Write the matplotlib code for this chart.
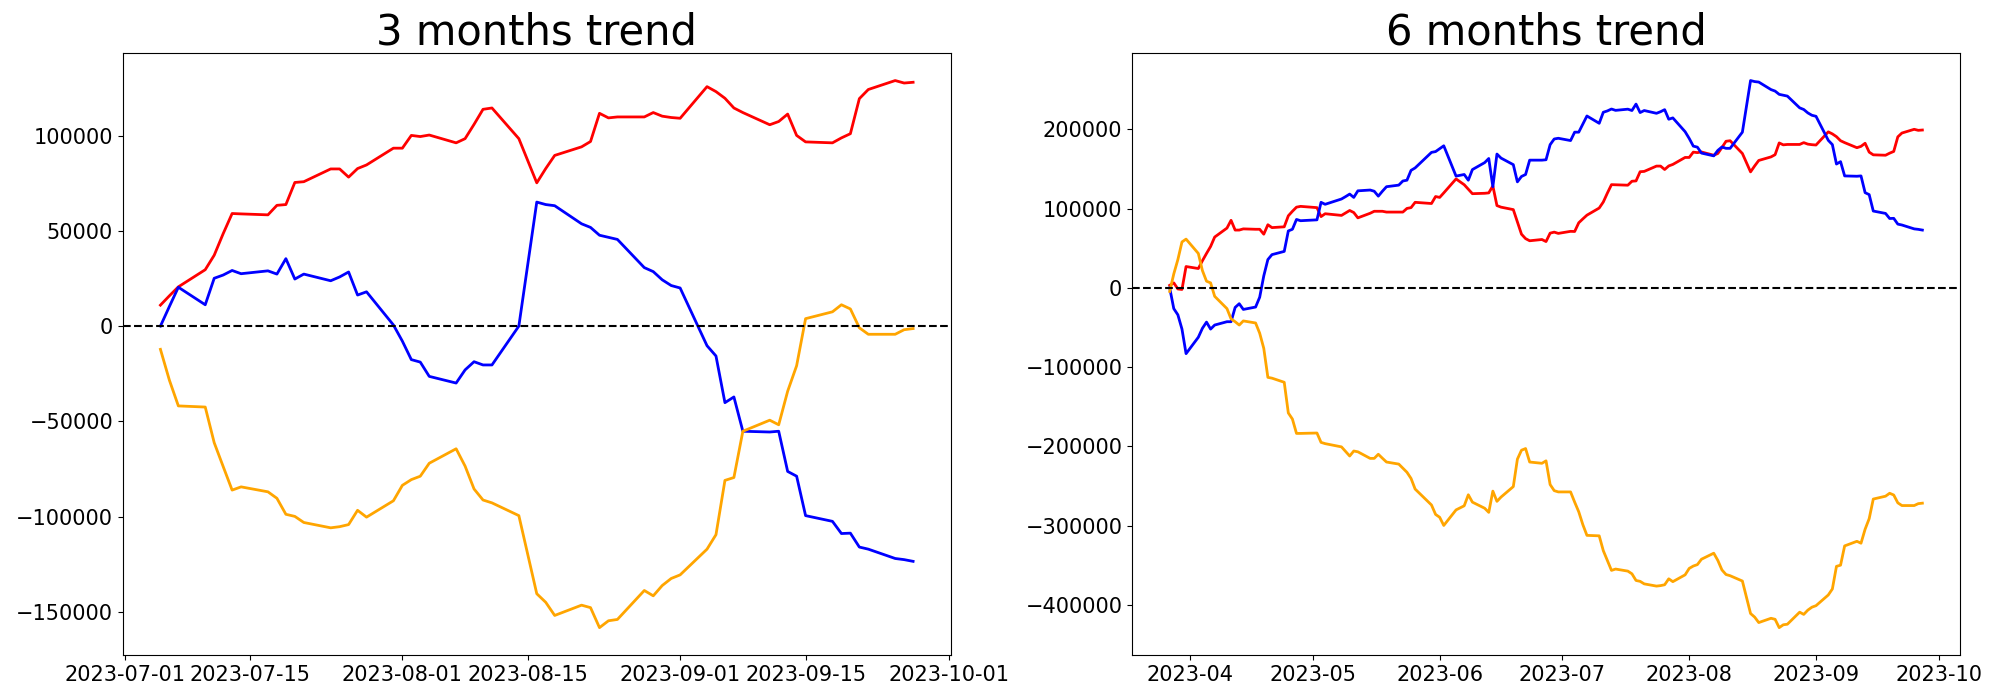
import matplotlib
matplotlib.use('Agg')
import matplotlib.pyplot as plt
import pandas as pd

# trading days (KRX holidays excluded)
krx_holidays = ['2023-05-01', '2023-05-05', '2023-05-29', '2023-06-06', '2023-08-15']
dates_3m = pd.bdate_range('2023-07-05', '2023-09-27', freq='C', holidays=krx_holidays)
dates_6m = pd.bdate_range('2023-03-27', '2023-09-27', freq='C', holidays=krx_holidays)

# 3 months, cumulative
red_3m = [11000, 15900, 20600, 29600, 37200, 48500, 59100, 58900, 58400, 63400,
          63800, 75400, 75800, 82500, 82500, 78200, 82700, 84600, 93400, 93400,
          100100, 99500, 100300, 96200, 98400, 105900, 113800, 114500, 98400, 75200,
          82700, 89600, 94100, 96900, 111700, 109300, 109800, 109800, 112100, 110200,
          109500, 109100, 125700, 123100, 119600, 114500, 112100, 105700, 107400, 111300,
          100100, 96700, 96200, 98800, 101000, 119400, 124200, 128900, 127600, 128000]
blue_3m = [0, 10300, 20400, 11200, 25100, 26800, 29200, 27500, 29000, 27300,
           35400, 24700, 27300, 23800, 25800, 28400, 16300, 18000, 600, -7900,
           -17600, -18900, -26400, -29900, -23000, -18700, -20400, -20400, 0, 65100,
           63800, 63200, 53700, 51800, 47700, 46600, 45500, 30700, 28600, 24300,
           21300, 20000, -10300, -15700, -40200, -37200, -55200, -55600, -55200, -76300,
           -78800, -99500, -102500, -108900, -108700, -116000, -117100, -122000, -122600, -123500]
orange_3m = [-12200, -28400, -41900, -42500, -61200, -73700, -86100, -84400, -87000, -90400,
             -98800, -99900, -103100, -105900, -105300, -104200, -96700, -100300, -91700, -83600,
             -80600, -78800, -72000, -64400, -73500, -85500, -91300, -92800, -99500, -140500,
             -145000, -151900, -146500, -147800, -158300, -154700, -154000, -138800, -141600, -136200,
             -132500, -130600, -117100, -109500, -81000, -79500, -55200, -49400, -51800, -34200,
             -20800, 3900, 7500, 11200, 9000, -900, -4300, -4300, -1900, -1300]

# 6 months, cumulative
red_6m = [3100, 6200, -1500, -2100, 26800, 24300, 34100, 43300, 52100, 64000,
          75300, 85100, 72800, 72800, 74300, 73800, 73800, 67600, 79500, 75900,
          76900, 90800, 96500, 101700, 102700, 101100, 89800, 93400, 91300, 94400,
          97500, 94900, 88200, 94000, 96500, 96500, 96500, 95500, 95500, 95500,
          100100, 101100, 107800, 106300, 115100, 114000, 119700, 137300, 130000, 124400,
          118700, 119200, 119700, 128500, 103700, 101700, 98600, 83000, 67600, 62000,
          59300, 60900, 58300, 68900, 70200, 68600, 71200, 71000,
          82000, 86900, 91600, 100600, 108200, 119500, 130100, 129900, 129400, 134400,
          134800, 146400, 146800, 153500, 153500, 149200, 153700, 155600, 164400, 164400,
          171100, 170500, 171300, 167200, 169400, 176900, 184800, 185500, 169400, 146200,
          153700, 160600, 165100, 167900, 182700, 180300, 180800, 180800, 183100, 181200,
          180500, 180100, 196700, 194100, 190600, 185500, 183100, 176700, 178400, 182300,
          171100, 167700, 167200, 169800, 172000, 190400, 195200, 199900, 198600, 199000]
blue_6m = [0, -26300, -34100, -52100, -83100, -62400, -51100, -43300, -52100, -47000,
           -42800, -42800, -24800, -20100, -27300, -24300, -11900, 15000, 35600, 41800,
           45900, 71700, 73800, 86200, 84600, 85700, 107800, 105300, 112000, 115000,
           118200, 114000, 122300, 123300, 121800, 115600, 121800, 127500, 129500, 134700,
           135700, 148100, 151200, 170800, 171800, 175500, 179100, 140900, 142900, 135700,
           149100, 157900, 163100, 127500, 168700, 163600, 155300, 133600, 140400, 142900,
           161000, 161000, 161500, 180500, 187700, 188600, 185700, 196300,
           196300, 206600, 216700, 207500, 221400, 223100, 225500, 223800, 225300, 223600,
           231700, 221000, 223600, 220100, 222100, 224700, 212600, 214300, 196900, 188400,
           178700, 177400, 169900, 166400, 173300, 177600, 175900, 175900, 196300, 261400,
           260100, 259500, 250000, 248100, 244000, 242900, 241800, 227000, 224900, 220600,
           217600, 216300, 186000, 180600, 156100, 159100, 141100, 140700, 141100, 120000,
           117500, 96800, 93800, 87400, 87600, 80300, 79200, 74300, 73700, 72800]
orange_6m = [-4600, 17500, 35600, 57800, 61400, 43300, 21700, 8300, 6200, -10800,
             -26300, -39200, -42800, -47000, -41800, -44400, -57300, -76400, -113000, -114000,
             -119200, -157900, -165600, -183700, -183700, -183200, -195000, -196600, -200700, -206500,
             -212200, -205900, -206900, -215200, -215200, -210000, -215000, -219800, -222400, -227500,
             -232700, -240500, -253900, -274000, -285900, -289500, -299800, -280200, -275000, -261100,
             -270400, -278100, -283300, -256500, -269400, -264000, -250800, -216200, -204900, -202800,
             -219800, -221400, -218300, -248200, -255900, -257500, -257500, -270400,
             -282600, -298800, -312300, -312900, -331600, -344100, -356500, -354800, -357400, -360800,
             -369200, -370300, -373500, -376300, -375700, -374600, -367100, -370700, -362100, -354000,
             -351000, -349200, -342400, -334800, -343900, -355900, -361700, -363200, -369900, -410900,
             -415400, -422300, -416900, -418200, -428700, -425100, -424400, -409200, -412000, -406600,
             -402900, -401000, -387500, -379900, -351400, -349900, -325600, -319800, -322200, -304600,
             -291200, -266500, -262900, -259200, -261400, -271300, -274700, -274700, -272300, -271700]

titles = ['3 months trend', '6 months trend']

fig, axes = plt.subplots(1, 2, figsize=(20, 7), dpi=100)
panels = [(dates_3m, red_3m, blue_3m, orange_3m),
          (dates_6m, red_6m, blue_6m, orange_6m)]

for ax, (dates, r, b, o), title in zip(axes, panels, titles):
    ax.plot(dates, r, color='red', linewidth=2)
    ax.plot(dates, b, color='blue', linewidth=2)
    ax.plot(dates, o, color='orange', linewidth=2)
    ax.axhline(0, color='black', linestyle='--')
    ax.set_title(title, fontsize=30)
    ax.tick_params(labelsize=15)

fig.subplots_adjust(left=0.0614, right=0.98, bottom=0.0643, top=0.924, wspace=0.219)
fig.savefig('out.png')
